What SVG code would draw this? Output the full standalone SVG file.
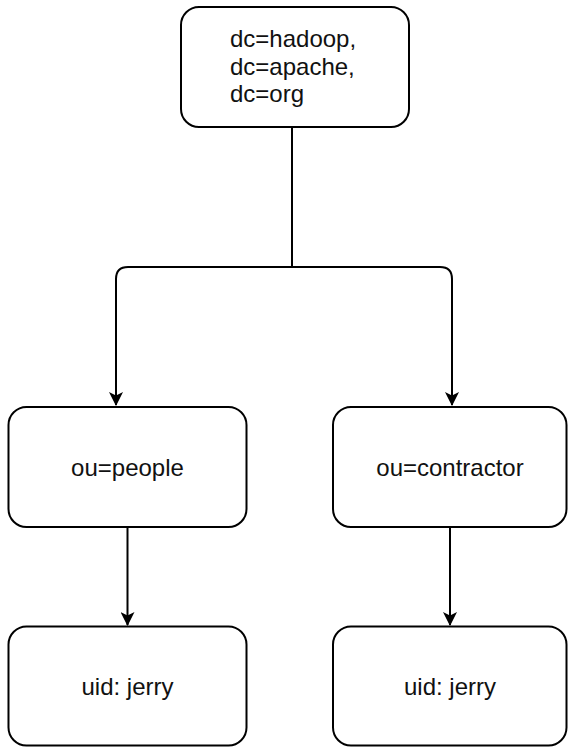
<svg xmlns="http://www.w3.org/2000/svg" width="569" height="747" viewBox="0 0 569 747">
<defs>
<style>
.box{fill:#ffffff;stroke:#000000;stroke-width:2}
.lbl{font-family:"Liberation Sans",Arial,Helvetica,sans-serif;font-size:24px;fill:#111111}
.c{text-anchor:middle}
.edge{fill:none;stroke:#000000;stroke-width:2}
</style>
<marker id="arr" viewBox="0 0 14 14" refX="13" refY="7" markerWidth="14" markerHeight="14" markerUnits="userSpaceOnUse" orient="auto">
<path d="M0,0 L14,7 L0,14 L3.5,7 Z" fill="#000000"/>
</marker>
</defs>
<rect width="569" height="747" fill="#ffffff"/>
<g id="connectors">
<path class="edge" d="M292,127 V267 H128 Q116,267 116,279 V405" marker-end="url(#arr)"/>
<path class="edge" d="M292,267 H440 Q452,267 452,279 V405" marker-end="url(#arr)"/>
<path class="edge" d="M127.5,527 V625" marker-end="url(#arr)"/>
<path class="edge" d="M450,527 V625" marker-end="url(#arr)"/>
</g>
<g id="root">
<rect class="box" x="181" y="7" width="228" height="120" rx="18" ry="18"/>
<text class="lbl" x="230" y="47">dc=hadoop,</text>
<text class="lbl" x="230" y="74.5">dc=apache,</text>
<text class="lbl" x="230" y="102">dc=org</text>
</g>
<g id="people">
<rect class="box" x="8.5" y="407" width="238" height="120" rx="18" ry="18"/>
<text class="lbl c" x="127.5" y="476">ou=people</text>
</g>
<g id="contractor">
<rect class="box" x="333" y="407" width="233.5" height="120" rx="18" ry="18"/>
<text class="lbl c" x="450" y="476">ou=contractor</text>
</g>
<g id="uid1">
<rect class="box" x="8.5" y="626.5" width="238" height="119" rx="18" ry="18"/>
<text class="lbl c" x="127.5" y="695">uid: jerry</text>
</g>
<g id="uid2">
<rect class="box" x="333" y="626.5" width="233.5" height="119" rx="18" ry="18"/>
<text class="lbl c" x="450" y="695">uid: jerry</text>
</g>
</svg>
